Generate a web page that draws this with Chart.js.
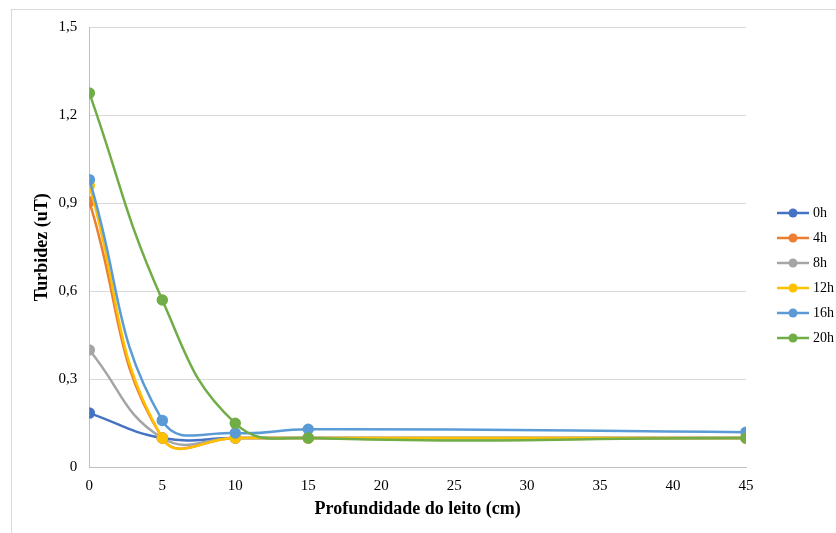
<!DOCTYPE html>
<html>
<head>
<meta charset="utf-8">
<script src="https://cdn.jsdelivr.net/npm/chart.js@4/dist/chart.umd.min.js"></script>
<style>
  html, body { margin: 0; padding: 0; background: #fff; }
  #frame {
    position: absolute; left: 11px; top: 9px; width: 825px; height: 524px;
    border-left: 1px solid #d9d9d9; border-top: 1px solid #d9d9d9;
  }
  #wrap { position: absolute; left: 0; top: 0; width: 836px; height: 533px; }
</style>
</head>
<body>
<div id="frame"></div>
<div id="wrap"><canvas id="chart" width="836" height="533"></canvas></div>
<script>
// ── dados ──
const profundidade = [0, 5, 10, 15, 45];
const xTicks = [0, 5, 10, 15, 20, 25, 30, 35, 40, 45];
const yTicks = [0, 0.3, 0.6, 0.9, 1.2, 1.5];

const serieNomes = ['0h', '4h', '8h', '12h', '16h', '20h'];
const t0h  = [0.185, 0.10, 0.10, 0.10, 0.10];
const t4h  = [0.905, 0.10, 0.10, 0.10, 0.10];
const t8h  = [0.40, 0.10, 0.10, 0.10, 0.10];
const t12h = [0.96, 0.10, 0.10, 0.10, 0.10];
const t16h = [0.98, 0.16, 0.117, 0.13, 0.12];
const t20h = [1.275, 0.57, 0.15, 0.10, 0.10];

const cores = ['#4472C4', '#ED7D31', '#A5A5A5', '#FFC000', '#5B9BD5', '#70AD47'];
const series = [t0h, t4h, t8h, t12h, t16h, t20h];

// ícone da legenda: linha com bolinha
function iconeLegenda(cor) {
  const c = document.createElement('canvas');
  c.width = 32; c.height = 10;
  const g = c.getContext('2d');
  g.strokeStyle = cor; g.lineWidth = 2.5;
  g.beginPath(); g.moveTo(0, 5); g.lineTo(32, 5); g.stroke();
  g.fillStyle = cor;
  g.beginPath(); g.arc(16, 5, 4.5, 0, Math.PI * 2); g.fill();
  return c;
}

// empurra a legenda um pouco para a direita (como no Excel)
const deslocaLegenda = {
  id: 'deslocaLegenda',
  afterLayout(chart) {
    const lg = chart.legend;
    if (!lg) return;
    lg.left += 23;
    lg.right += 23;
  },
};

const datasets = series.map((vals, i) => ({
  label: serieNomes[i],
  data: vals.map((v, k) => ({ x: profundidade[k], y: v })),
  borderColor: cores[i],
  backgroundColor: cores[i],
  borderWidth: 2.5,
  pointRadius: 4.5,
  pointHoverRadius: 4.5,
  tension: 0.45,
  order: series.length - 1 - i,
}));

const serif = "'Liberation Serif', 'Times New Roman', serif";

new Chart(document.getElementById('chart'), {
  type: 'line',
  data: { datasets },
  plugins: [deslocaLegenda],
  options: {
    responsive: false,
    animation: false,
    layout: { padding: { left: 28, top: 27, right: 15, bottom: 9 } },
    plugins: {
      tooltip: { enabled: false },
      legend: {
        position: 'right',
        align: 'center',
        labels: {
          usePointStyle: true,
          pointStyleWidth: 26,
          padding: 11,
          color: '#000',
          font: { family: serif, size: 14 },
          generateLabels: (chart) => chart.data.datasets.map((ds, i) => ({
            text: ds.label,
            pointStyle: iconeLegenda(cores[i]),
            fillStyle: cores[i],
            strokeStyle: cores[i],
            lineWidth: 0,
            datasetIndex: i,
          })),
        },
      },
    },
    scales: {
      x: {
        type: 'linear',
        min: 0, max: 45,
        afterBuildTicks: (ax) => { ax.ticks = xTicks.map(v => ({ value: v })); },
        grid: { display: false, drawTicks: false },
        border: { display: true, color: '#bfbfbf', width: 1 },
        ticks: { color: '#000', font: { family: serif, size: 15 }, padding: 10 },
        title: {
          display: true, text: 'Profundidade do leito (cm)', color: '#000',
          font: { family: serif, size: 18, weight: 'bold' }, padding: { top: -7, bottom: 4 },
        },
      },
      y: {
        min: 0, max: 1.5,
        afterBuildTicks: (ax) => { ax.ticks = yTicks.map(v => ({ value: v })); },
        grid: { color: '#d9d9d9', drawTicks: false },
        border: { display: true, color: '#bfbfbf', width: 1 },
        ticks: {
          color: '#000', font: { family: serif, size: 15 }, padding: 12,
          callback: (v) => v === 0 ? '0' : v.toFixed(1).replace('.', ','),
        },
        title: {
          display: true, text: 'Turbidez (uT)', color: '#000',
          font: { family: serif, size: 18, weight: 'bold' }, padding: { top: 4, bottom: -7 },
        },
      },
    },
  },
});
</script>
</body>
</html>
